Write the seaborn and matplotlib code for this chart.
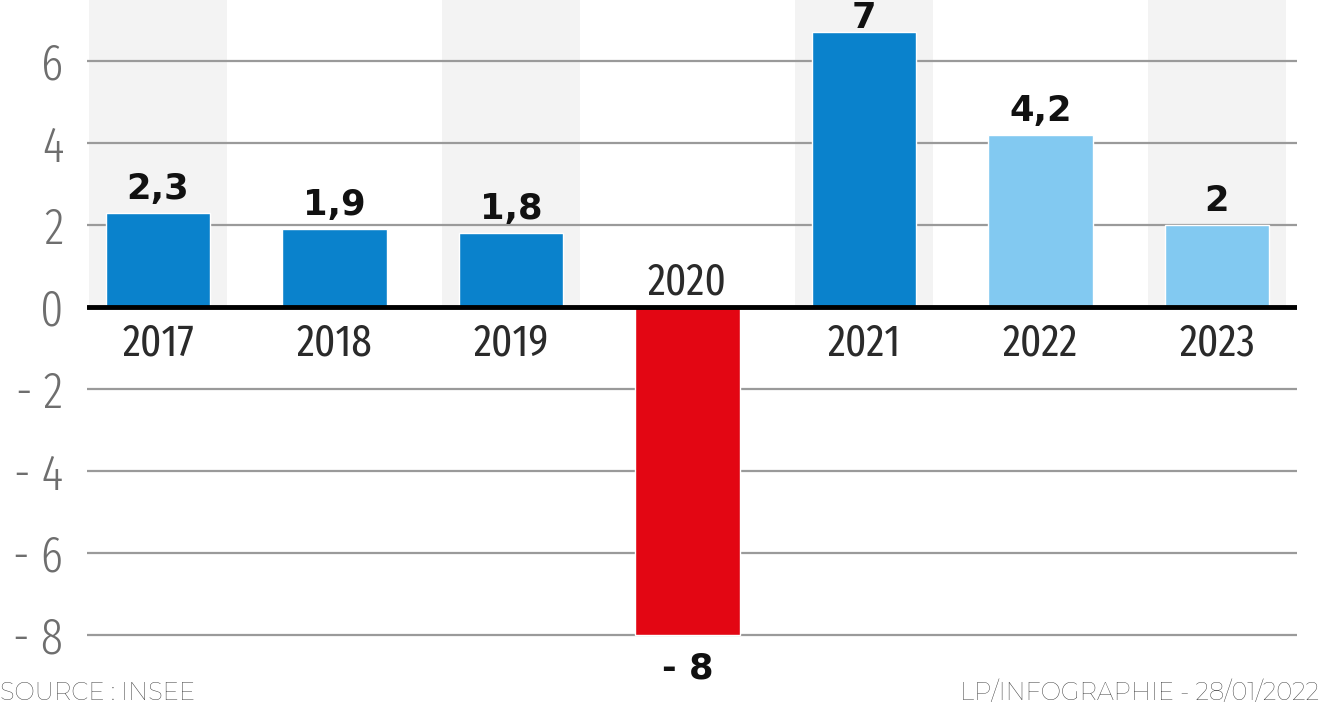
import matplotlib
matplotlib.use("Agg")
import matplotlib.pyplot as plt
import seaborn as sns

# ---- data ----
years = ['2017', '2018', '2019', '2020', '2021', '2022', '2023']
values = [2.3, 1.9, 1.8, -8.0, 6.7, 4.2, 2.0]
value_labels = ['2,3', '1,9', '1,8', '- 8', '7', '4,2', '2']
bar_colors = ['#0A82CC', '#0A82CC', '#0A82CC', '#E30613', '#0A82CC', '#82C9F1', '#82C9F1']
banded_years = ['2017', '2019', '2021', '2023']
y_ticks = [6, 4, 2, 0, -2, -4, -6, -8]
y_tick_labels = ['6', '4', '2', '0', '- 2', '- 4', '- 6', '- 8']
source_text = 'SOURCE : INSEE'
credit_text = 'LP/INFOGRAPHIE - 28/01/2022'

sns.set_theme(style='white')
cond = ['Fira Sans Extra Condensed', 'DejaVu Sans']
boldf = ['DejaVu Sans']
footf = ['Montserrat', 'DejaVu Sans']

W, H = 1321, 707
fig = plt.figure(figsize=(W / 100, H / 100), dpi=100)
fig.patch.set_facecolor('white')
ax = fig.add_axes([87 / W, 0, (1297 - 87) / W, 1])
ax.set_facecolor('white')

sns.barplot(x=years, y=values, hue=years, palette=bar_colors, legend=False,
            width=0.59, saturation=1, ax=ax, zorder=3)

ax.set_xlim(-0.402, 6.453)
ax.set_ylim(-9.76, 7.49)
ymin, ymax = ax.get_ylim()
zero_frac = (0 - ymin) / (ymax - ymin)

# background bands
for y in banded_years:
    i = years.index(y)
    ax.axvspan(i - 0.39, i + 0.39, ymin=zero_frac, ymax=1, color='#F3F3F3', zorder=0, lw=0)

# gridlines
for t in y_ticks:
    if t != 0:
        ax.axhline(t, color='#9A9A9A', lw=1.6, zorder=1)
ax.axhline(0, color='black', lw=3.5, zorder=4)

ax.set_yticks(y_ticks)
ax.set_yticklabels(y_tick_labels, family=cond, fontweight=300, fontsize=36, color='#6E6E6E')
ax.tick_params(axis='y', length=0, pad=17)
ax.set_xticks([])
ax.set_xlabel('')
ax.set_ylabel('')
for s in ax.spines.values():
    s.set_visible(False)
ax.grid(False)

# year labels and value labels
val_fs = 25.5
px_per_unit = H / (ymax - ymin)
for i, (yr, v, lab) in enumerate(zip(years, values, value_labels)):
    if v >= 0:
        ax.annotate(yr, (i, 0), xytext=(0, -11), textcoords='offset points',
                    ha='center', va='top', family=cond, fontweight=400, fontsize=32,
                    color='#2A2A2A', zorder=5)
        # keep label inside the figure when bar reaches the top
        room_px = (ymax - v) * px_per_unit
        cap_px = val_fs * 0.73 * 100 / 72
        off_px = min(14, room_px - cap_px - 2)
        ax.annotate(lab, (i, v), xytext=(0, off_px * 0.72), textcoords='offset points',
                    ha='center', va='baseline', family=boldf, fontweight='bold',
                    fontsize=val_fs, color='#111111', zorder=5, annotation_clip=False)
    else:
        ax.annotate(yr, (i, 0), xytext=(0, 9), textcoords='offset points',
                    ha='center', va='baseline', family=cond, fontweight=400, fontsize=32,
                    color='#2A2A2A', zorder=5)
        ax.annotate(lab, (i, v), xytext=(0, -12), textcoords='offset points',
                    ha='center', va='top', family=boldf, fontweight='bold',
                    fontsize=val_fs, color='#111111', zorder=5)

fig.text(0.0, 2 / H, source_text, ha='left', va='bottom', fontsize=17.5,
         family=footf, fontweight=300, color='#333333')
fig.text(1319 / W, 2 / H, credit_text, ha='right', va='bottom', fontsize=17.5,
         family=footf, fontweight=300, color='#333333')

fig.savefig('out.png', dpi=100)
